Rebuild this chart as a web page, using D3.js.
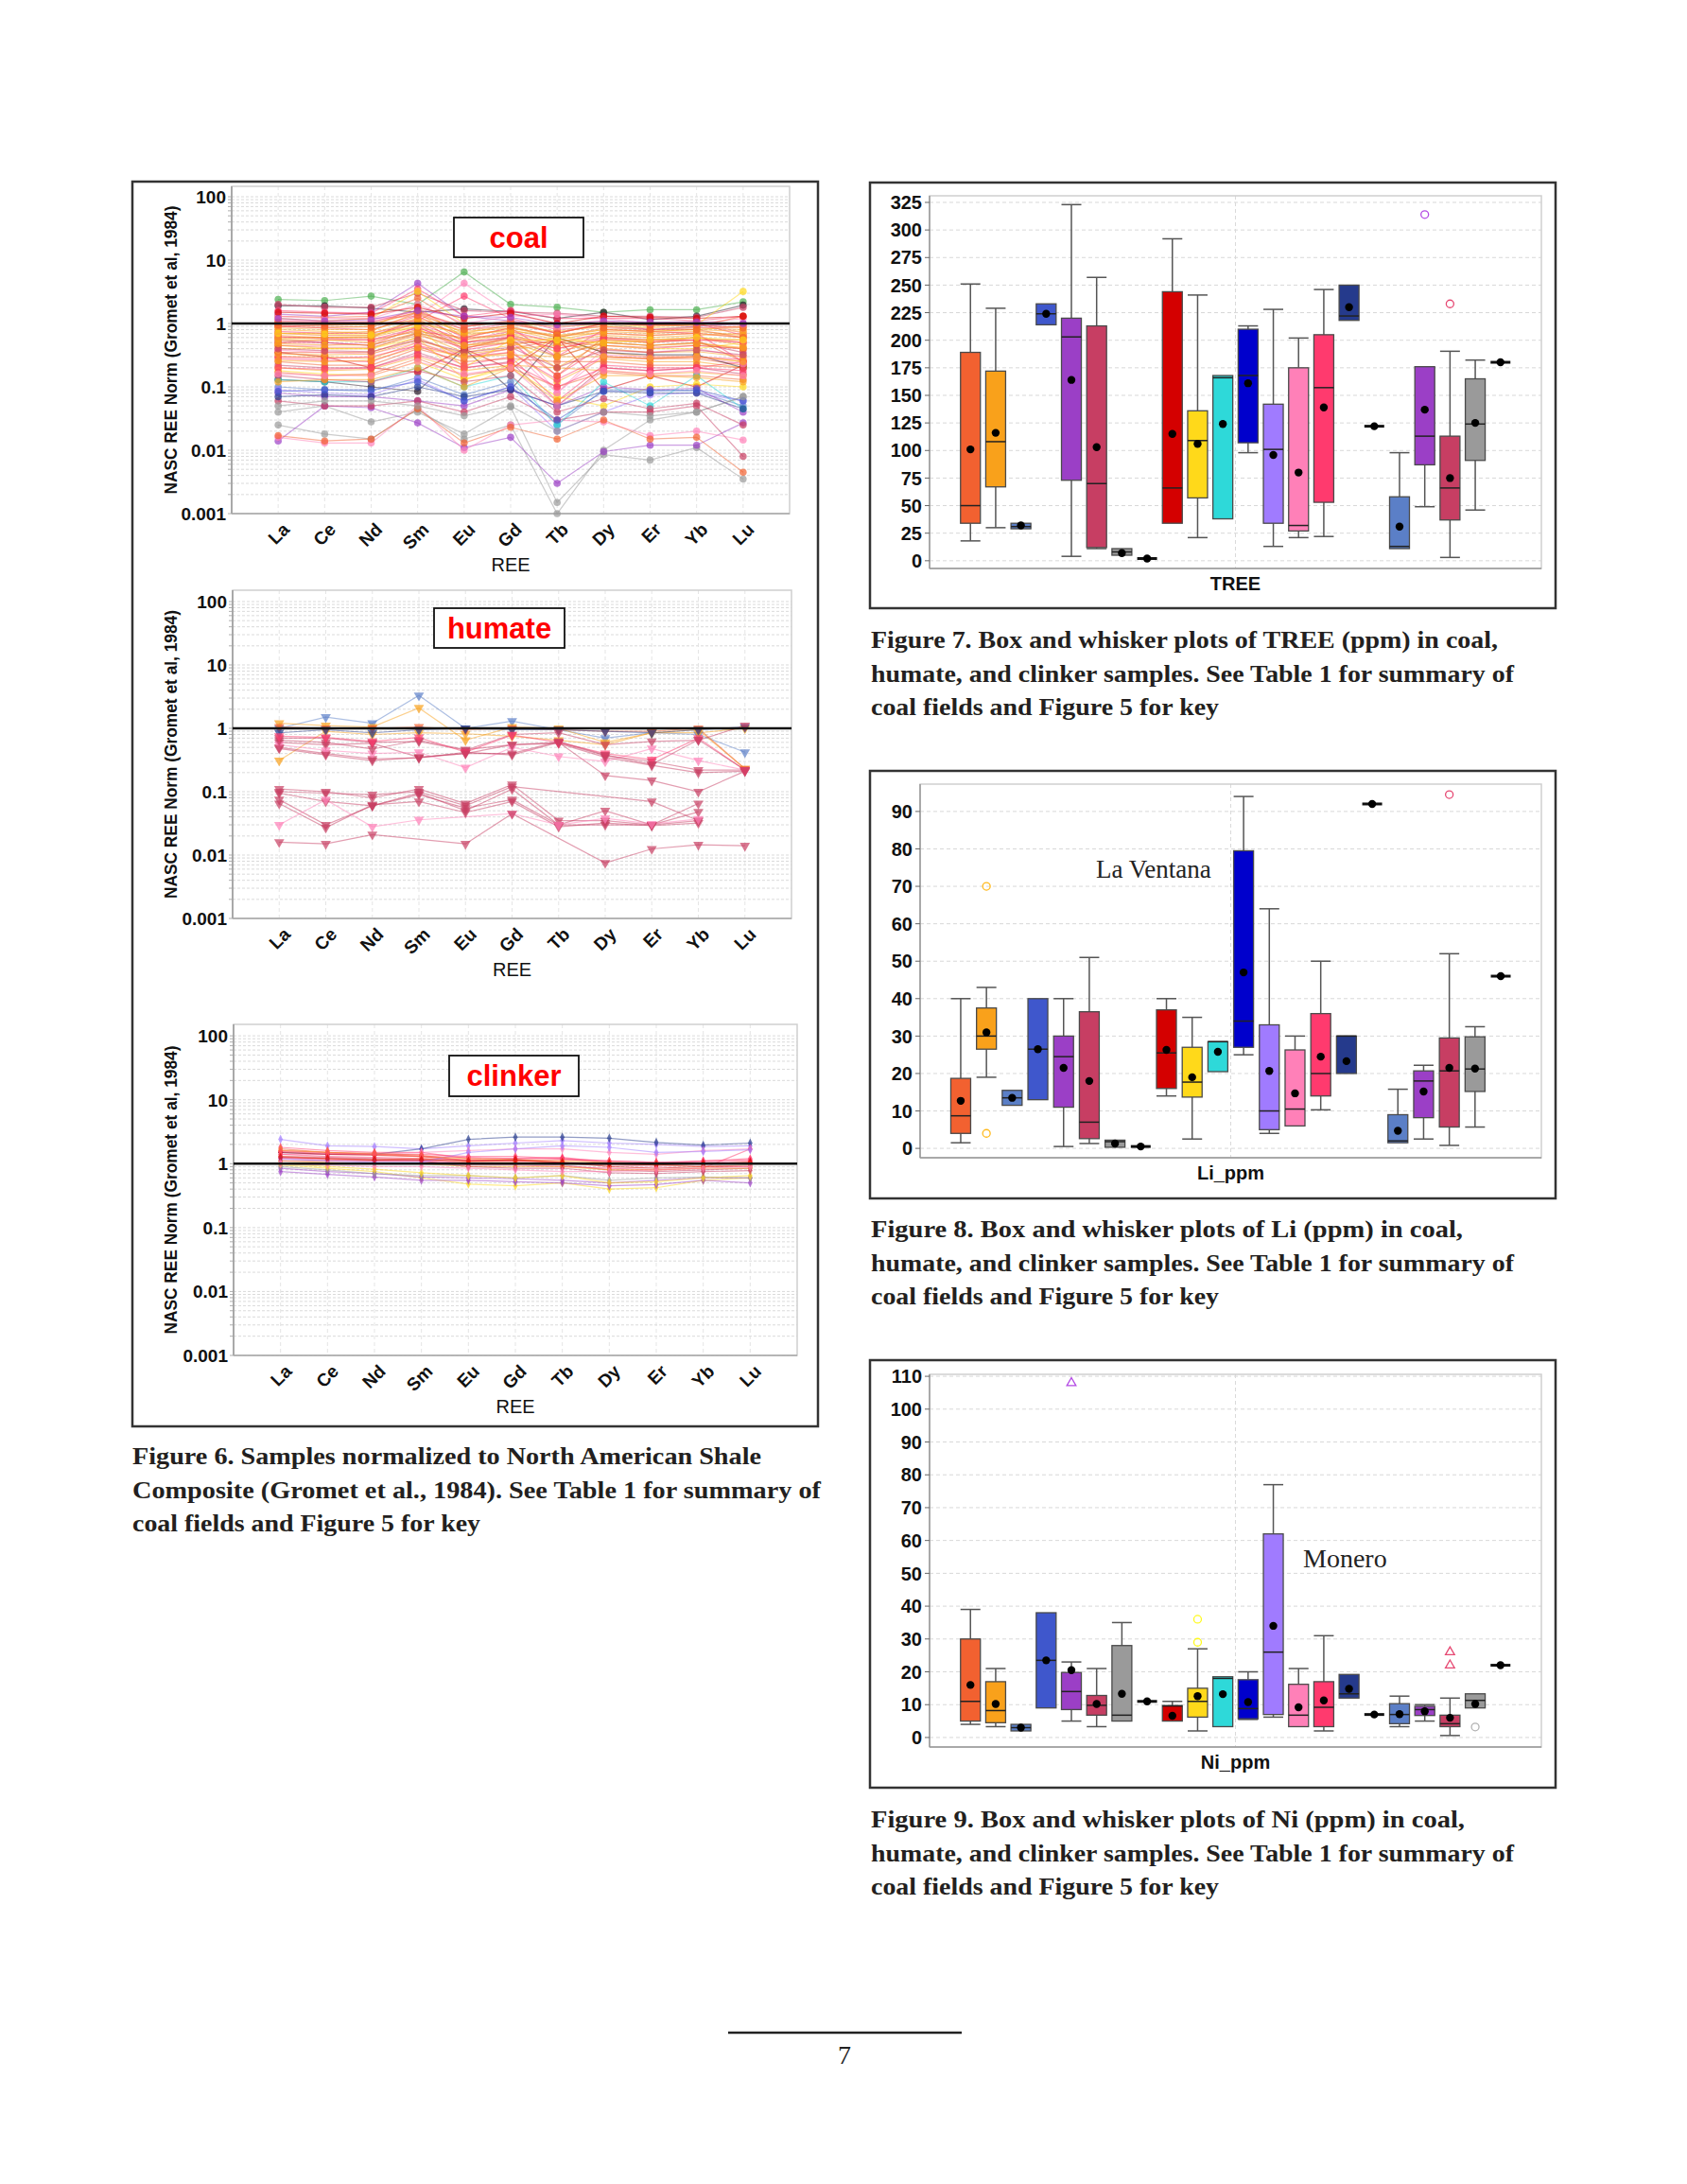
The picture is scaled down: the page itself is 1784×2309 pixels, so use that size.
<!DOCTYPE html>
<html lang="en">
<head>
<meta charset="UTF-8">
<title>Figures 6-9</title>
<style>
  body { margin: 0; background: #fff; }
  svg { display: block; }
  .ax { font-family: "Liberation Sans Narrow", "Liberation Sans", Arial, sans-serif; fill: #111; }
  .cap { font-family: "Liberation Serif", "DejaVu Serif", serif; font-weight: bold; fill: #231f20; }
  .serif { font-family: "Liberation Serif", "DejaVu Serif", serif; fill: #222; }
</style>
</head>
<body>
<script src="https://d3js.org/d3.v7.min.js"></script>
<script>
// ---------- data ----------
const ree = ['La', 'Ce', 'Nd', 'Sm', 'Eu', 'Gd', 'Tb', 'Dy', 'Er', 'Yb', 'Lu'];
const reeTicks = [100, 10, 1, 0.1, 0.01, 0.001];
const reeTickLabels = ['100', '10', '1', '0.1', '0.01', '0.001'];

// coal field index -> colour (key of Figure 5)
const fieldColors = ['#F26130', '#F9A11B', '#5B7FC7', '#3F57CC', '#9B3FC6', '#C73E63', '#9A9A9A',
  '#D40000', '#FFD91A', '#2ED9D9', '#0000CC', '#A07BFF', '#FF80B8', '#FF3A6E', '#253A8C', '#4CAF50', '#2A1A2A'];

const coalRows = [
  { f: 15, v: [2.4, 2.3, 2.7, 2.0, 6.5, 2.0, 1.8, 1.5, 1.65, 1.65, 2.2] },
  { f: 16, v: [1.9, 1.9, 1.75, 1.5, 1.7, 1.55, 1.2, 1.5, 1.15, 1.3, 1.95] },
  { f: 4, v: [1.4, 1.3, 1.5, 4.3, 1.3, 1.1, 0.9, 1.0, 0.8, 0.9, 1.0] },
  { f: 12, v: [1.0, 1.1, 1.2, 1.3, 4.3, 1.4, 1.0, 1.1, 0.9, 1.0, 1.2] },
  { f: 13, v: [0.9, 0.95, 1.0, 1.1, 2.7, 1.2, 0.8, 0.9, 0.8, 0.85, 0.9] },
  { f: 5, v: [2.0, 1.8, 1.8, 3.0, 1.6, 1.5, 1.45, 1.3, 1.3, 1.25, 1.8] },
  { f: 13, v: [1.6, 1.5, 1.45, 3.5, 1.3, 1.6, 1.2, 1.2, 1.2, 1.1, 1.3] },
  { f: 8, v: [1.2, 1.1, 1.2, 3.2, 1.0, 1.0, 0.9, 0.95, 0.9, 0.95, 3.2] },
  { f: 0, v: [1.3, 1.25, 1.3, 2.5, 0.9, 1.1, 0.7, 1.0, 0.95, 0.9, 1.3] },
  { f: 1, v: [0.9, 0.85, 0.9, 1.8, 0.6, 0.85, 0.6, 0.8, 0.75, 0.8, 0.9] },
  { f: 1, v: [0.7, 0.7, 0.75, 1.5, 0.5, 0.7, 0.5, 0.65, 0.6, 0.65, 0.7] },
  { f: 0, v: [0.6, 0.6, 0.6, 1.2, 0.45, 0.6, 0.4, 0.55, 0.5, 0.55, 0.55] },
  { f: 13, v: [0.5, 0.5, 0.45, 0.9, 0.38, 0.5, 0.15, 0.45, 0.4, 0.45, 0.4] },
  { f: 12, v: [0.45, 0.45, 0.5, 0.8, 0.4, 0.6, 0.08, 0.4, 0.35, 0.4, 0.3] },
  { f: 1, v: [0.4, 0.4, 0.4, 0.7, 0.35, 0.45, 0.6, 0.35, 0.3, 0.3, 0.25] },
  { f: 0, v: [0.35, 0.35, 0.35, 0.6, 0.3, 0.4, 0.55, 0.3, 0.28, 0.28, 0.22] },
  { f: 1, v: [0.3, 0.3, 0.28, 0.5, 0.28, 0.35, 0.12, 0.28, 0.25, 0.25, 0.2] },
  { f: 13, v: [0.28, 0.26, 0.25, 0.45, 0.22, 0.3, 0.06, 0.22, 0.2, 0.2, 0.25] },
  { f: 7, v: [0.35, 0.3, 0.2, 0.17, 0.4, 0.19, 0.6, 0.09, 0.15, 0.1, 0.22] },
  { f: 16, v: [0.13, 0.12, 0.1, 0.085, 0.4, 0.09, 0.6, 0.35, 0.32, 0.32, 0.2] },
  { f: 5, v: [0.22, 0.2, 0.2, 0.35, 0.2, 0.25, 0.05, 0.2, 0.18, 0.2, 0.16] },
  { f: 1, v: [0.2, 0.18, 0.19, 0.3, 0.18, 0.22, 0.2, 0.18, 0.16, 0.17, 0.15] },
  { f: 8, v: [0.18, 0.16, 0.15, 0.25, 0.13, 0.2, 0.07, 0.05, 0.1, 0.11, 0.1] },
  { f: 0, v: [0.17, 0.15, 0.16, 0.28, 0.15, 0.2, 0.1, 0.17, 0.15, 0.15, 0.13] },
  { f: 2, v: [0.1, 0.09, 0.085, 0.14, 0.075, 0.12, 0.025, 0.09, 0.09, 0.085, 0.05] },
  { f: 11, v: [0.09, 0.08, 0.075, 0.13, 0.06, 0.1, 0.02, 0.04, 0.075, 0.08, 0.06] },
  { f: 4, v: [0.08, 0.07, 0.07, 0.06, 0.05, 0.09, 0.05, 0.1, 0.09, 0.095, 0.04] },
  { f: 6, v: [0.04, 0.05, 0.028, 0.04, 0.018, 0.048, 0.0015, 0.0085, 0.007, 0.011, 0.0035] },
  { f: 6, v: [0.025, 0.018, 0.015, 0.045, 0.015, 0.025, 0.001, 0.01, 0.03, 0.04, 0.07] },
  { f: 4, v: [0.014, 0.05, 0.047, 0.027, 0.011, 0.016, 0.003, 0.0095, 0.012, 0.012, 0.027] },
  { f: 12, v: [0.016, 0.013, 0.013, 0.05, 0.01, 0.025, 0.03, 0.028, 0.017, 0.02, 0.0145] },
  { f: 0, v: [0.017, 0.014, 0.015, 0.045, 0.013, 0.023, 0.015, 0.03, 0.015, 0.016, 0.0045] },
  { f: 5, v: [0.06, 0.05, 0.05, 0.06, 0.04, 0.07, 0.03, 0.04, 0.04, 0.05, 0.008] },
  { f: 9, v: [0.13, 0.12, 0.12, 0.2, 0.1, 0.15, 0.025, 0.12, 0.05, 0.15, 0.045] },
  { f: 13, v: [0.75, 0.7, 0.7, 1.0, 0.55, 0.75, 0.5, 0.7, 0.65, 0.7, 0.6] },
  { f: 1, v: [1.0, 0.95, 0.95, 1.5, 0.7, 0.95, 0.75, 0.9, 0.85, 0.85, 0.8] },
  { f: 0, v: [0.5, 0.55, 0.55, 0.75, 0.6, 0.65, 0.45, 0.6, 0.55, 0.6, 0.5] },
  { f: 1, v: [0.65, 0.6, 0.6, 0.9, 0.55, 0.7, 0.35, 0.55, 0.5, 0.6, 0.45] },
  { f: 13, v: [1.1, 1.05, 1.05, 1.6, 0.8, 1.0, 0.7, 1.0, 0.95, 1.0, 0.65] },
  { f: 12, v: [1.3, 1.2, 1.2, 2.0, 1.0, 1.3, 1.4, 1.2, 1.0, 1.1, 0.7] },
  { f: 5, v: [0.55, 0.5, 0.45, 0.7, 0.5, 0.6, 0.3, 0.5, 0.45, 0.5, 0.35] },
  { f: 1, v: [0.8, 0.75, 0.7, 1.1, 0.65, 0.8, 0.55, 0.75, 0.7, 0.75, 0.65] },
  { f: 0, v: [0.25, 0.22, 0.22, 0.4, 0.25, 0.28, 0.25, 0.25, 0.22, 0.22, 0.2] },
  { f: 8, v: [0.45, 0.4, 0.4, 0.6, 0.13, 0.22, 0.65, 0.45, 0.4, 0.4, 0.5] },
  { f: 14, v: [0.07, 0.075, 0.07, 0.1, 0.07, 0.09, 0.05, 0.085, 0.08, 0.08, 0.045] },
  { f: 3, v: [0.085, 0.09, 0.09, 0.12, 0.06, 0.1, 0.03, 0.085, 0.085, 0.09, 0.06] },
  { f: 6, v: [0.05, 0.06, 0.06, 0.05, 0.035, 0.05, 0.02, 0.04, 0.035, 0.04, 0.07] },
  { f: 13, v: [0.3, 0.28, 0.3, 0.45, 0.3, 0.35, 0.13, 0.3, 0.28, 0.3, 0.27] },
  { f: 1, v: [0.55, 0.55, 0.5, 0.8, 0.45, 0.55, 0.2, 0.5, 0.45, 0.5, 0.4] },
  { f: 0, v: [0.7, 0.65, 0.65, 1.0, 0.4, 0.6, 0.15, 0.6, 0.55, 0.55, 0.25] },
  { f: 5, v: [0.15, 0.13, 0.12, 0.18, 0.12, 0.15, 0.04, 0.065, 0.045, 0.055, 0.025] },
  { f: 1, v: [0.12, 0.13, 0.13, 0.2, 0.1, 0.2, 0.06, 0.15, 0.15, 0.14, 0.12] },
  { f: 13, v: [0.9, 0.85, 0.8, 1.3, 0.6, 0.85, 0.3, 0.8, 0.75, 0.7, 0.25] },
  { f: 7, v: [1.5, 1.45, 1.4, 1.8, 1.2, 1.45, 1.0, 1.3, 1.25, 1.2, 1.3] },
  { f: 12, v: [0.38, 0.35, 0.33, 0.5, 0.3, 0.4, 0.08, 0.32, 0.3, 0.3, 0.23] },
  { f: 1, v: [0.85, 0.8, 0.8, 1.2, 0.75, 0.85, 0.65, 0.8, 0.75, 0.8, 0.75] },
  { f: 0, v: [0.45, 0.42, 0.42, 0.65, 0.42, 0.5, 0.5, 0.45, 0.42, 0.45, 0.4] },
  { f: 1, v: [0.33, 0.32, 0.33, 0.55, 0.33, 0.4, 0.45, 0.4, 0.35, 0.36, 0.3] },
  { f: 13, v: [0.62, 0.58, 0.55, 0.85, 0.5, 0.62, 0.4, 0.58, 0.52, 0.55, 0.5] },
  { f: 12, v: [1.15, 1.1, 1.1, 1.4, 0.9, 1.1, 0.85, 1.05, 1.0, 1.0, 0.95] },
  { f: 1, v: [0.58, 0.6, 0.62, 1.0, 0.7, 0.75, 0.65, 0.7, 0.65, 0.7, 0.6] },
  { f: 0, v: [0.95, 0.9, 0.88, 1.35, 0.8, 0.9, 0.6, 0.85, 0.8, 0.8, 0.6] },
  { f: 8, v: [0.7, 0.68, 0.66, 0.9, 0.2, 0.55, 0.55, 0.5, 0.55, 0.6, 0.55] },
  { f: 5, v: [0.4, 0.37, 0.36, 0.55, 0.35, 0.42, 0.2, 0.38, 0.35, 0.38, 0.32] },
  { f: 1, v: [0.26, 0.25, 0.26, 0.42, 0.3, 0.32, 0.3, 0.3, 0.28, 0.3, 0.25] },
  { f: 13, v: [0.2, 0.19, 0.2, 0.32, 0.2, 0.24, 0.1, 0.2, 0.18, 0.2, 0.18] },
  { f: 0, v: [1.05, 1.0, 1.0, 1.5, 0.9, 1.05, 0.7, 1.0, 0.95, 0.95, 0.85] },
  { f: 1, v: [0.48, 0.46, 0.46, 0.72, 0.45, 0.5, 0.3, 0.5, 0.45, 0.48, 0.42] },
  { f: 12, v: [0.16, 0.15, 0.15, 0.25, 0.16, 0.2, 0.05, 0.18, 0.16, 0.18, 0.15] },
  { f: 4, v: [1.2, 1.1, 1.15, 1.6, 1.3, 1.25, 0.95, 1.1, 1.05, 1.05, 1.0] }
];

const humateRows = [
  { f: 2, v: [1.0, 1.5, 1.2, 3.3, 1.0, 1.3, 0.95, 0.7, 0.85, 0.8, 0.42] },
  { f: 1, v: [1.2, 1.1, 1.05, 2.1, 0.65, 1.05, 1.0, 0.6, 0.85, 0.95, 0.23] },
  { f: 1, v: [0.31, 0.9, 0.8, 0.85, 0.82, 0.75, 0.65, 0.55, 0.85, 0.85, 1.0] },
  { f: 0, v: [1.05, 1.0, 1.0, 1.05, 0.95, 1.0, 0.95, 0.9, 0.9, 1.0, 0.23] },
  { f: 14, v: [0.85, 0.95, 0.85, 0.95, 1.0, 0.95, 0.95, 0.9, 0.85, 0.95, 1.05] },
  { f: 5, v: [0.7, 0.7, 0.6, 0.62, 0.45, 0.8, 0.85, 0.55, 0.62, 0.65, 1.1] },
  { f: 5, v: [0.6, 0.55, 0.58, 0.35, 0.4, 0.55, 0.6, 0.18, 0.15, 0.1, 0.21] },
  { f: 5, v: [0.5, 0.4, 0.33, 0.34, 0.42, 0.38, 0.6, 0.37, 0.3, 0.22, 0.22] },
  { f: 12, v: [0.55, 0.45, 0.4, 0.42, 0.24, 0.5, 0.36, 0.3, 0.48, 0.31, 0.22] },
  { f: 5, v: [0.65, 0.6, 0.47, 0.65, 0.46, 0.55, 0.58, 0.35, 0.26, 0.2, 0.21] },
  { f: 13, v: [0.75, 0.72, 0.62, 0.72, 0.42, 0.78, 0.6, 0.4, 0.32, 0.7, 0.22] },
  { f: 5, v: [0.48, 0.38, 0.31, 0.35, 0.4, 0.4, 0.62, 0.38, 0.27, 0.66, 0.22] },
  { f: 5, v: [0.1, 0.095, 0.09, 0.1, 0.06, 0.12, null, null, 0.07, 0.035, null] },
  { f: 5, v: [0.11, 0.1, 0.08, 0.11, 0.065, 0.13, 0.035, 0.035, 0.03, 0.035, null] },
  { f: 5, v: [0.095, 0.07, 0.06, 0.095, 0.05, 0.11, 0.03, 0.03, 0.03, 0.048, null] },
  { f: 5, v: [0.075, 0.03, 0.06, 0.09, 0.055, 0.075, 0.03, 0.05, 0.03, 0.065, null] },
  { f: 5, v: [0.065, 0.027, 0.062, 0.07, 0.047, 0.07, 0.028, 0.032, 0.029, 0.032, null] },
  { f: 12, v: [0.03, 0.075, 0.028, 0.036, null, 0.045, 0.03, 0.038, 0.031, 0.037, null] },
  { f: 5, v: [0.016, 0.015, 0.021, null, 0.015, 0.045, null, 0.0075, 0.0125, 0.0145, 0.014] }
];

const clinkerRows = [
  { f: 11, v: [2.4, 1.9, 1.85, 1.7, 1.9, 2.1, 2.3, 2.1, 2.0, 1.85, 1.9] },
  { f: 14, v: [1.5, 1.4, 1.4, 1.7, 2.4, 2.6, 2.6, 2.5, 2.15, 1.95, 2.1] },
  { f: 13, v: [1.8, 1.6, 1.5, 1.5, 1.2, 1.2, 1.2, 1.0, 1.0, 1.0, 1.0] },
  { f: 13, v: [1.6, 1.5, 1.4, 1.4, 1.3, 1.3, 1.2, 1.1, 1.05, 1.05, 1.1] },
  { f: 12, v: [1.4, 1.4, 1.4, 1.5, 1.6, 1.7, 1.7, 1.5, 1.4, 1.6, 1.7] },
  { f: 7, v: [1.5, 1.4, 1.35, 1.3, 1.1, 1.1, 1.05, 0.9, 0.85, 0.9, 0.9] },
  { f: 0, v: [1.7, 1.5, 1.45, 1.35, 1.1, 1.15, 1.0, 1.0, 0.95, 1.0, 1.05] },
  { f: 5, v: [1.3, 1.25, 1.2, 1.15, 1.0, 1.0, 0.95, 0.8, 0.75, 0.8, 0.85] },
  { f: 13, v: [1.2, 1.15, 1.1, 1.1, 0.95, 0.95, 0.9, 0.85, 0.8, 0.85, 1.7] },
  { f: 1, v: [1.1, 1.05, 1.0, 1.0, 0.9, 0.9, 0.9, 0.8, 0.8, 0.85, 0.85] },
  { f: 8, v: [0.95, 0.85, 0.75, 0.6, 0.48, 0.45, 0.5, 0.4, 0.42, 0.55, 0.6] },
  { f: 4, v: [0.75, 0.68, 0.62, 0.55, 0.55, 0.52, 0.5, 0.45, 0.47, 0.55, 0.5] },
  { f: 4, v: [0.85, 0.75, 0.7, 0.62, 0.6, 0.58, 0.55, 0.5, 0.55, 0.6, 0.6] },
  { f: 6, v: [0.9, 0.8, 0.7, 0.65, 0.65, 0.6, 0.65, 0.55, 0.6, 0.62, 0.6] },
  { f: 8, v: [1.0, 0.9, 0.82, 0.72, 0.65, 0.6, 0.65, 0.5, 0.52, 0.6, 0.65] },
  { f: 12, v: [1.25, 1.2, 1.15, 1.1, 1.05, 1.0, 1.0, 0.95, 0.9, 0.95, 0.9] },
  { f: 13, v: [1.4, 1.3, 1.25, 1.2, 1.15, 1.1, 1.15, 1.1, 1.05, 1.1, 1.2] },
  { f: 5, v: [1.1, 1.1, 1.1, 1.1, 0.9, 0.85, 0.85, 0.72, 0.7, 0.75, 0.78] },
  { f: 0, v: [1.3, 1.2, 1.15, 1.2, 1.05, 1.05, 1.0, 0.95, 0.95, 0.9, 0.95] },
  { f: 11, v: [1.2, 1.1, 1.05, 1.05, 1.5, 1.7, 1.9, 1.8, 1.5, 1.55, 1.65] },
  { f: 1, v: [1.6, 1.5, 1.4, 1.3, 1.2, 1.15, 1.1, 1.05, 1.0, 1.0, 1.0] },
  { f: 13, v: [1.55, 1.45, 1.4, 1.3, 1.25, 1.2, 1.25, 1.05, 1.0, 1.1, 1.15] },
  { f: 7, v: [1.25, 1.2, 1.15, 1.15, 1.1, 1.15, 1.05, 1.0, 0.95, 1.0, 1.05] },
  { f: 12, v: [1.0, 0.95, 0.9, 0.9, 0.85, 0.8, 0.75, 0.75, 0.8, 0.85, 0.9] }
];

// box plot groups: field of each slot (null = single sample)
const slotFields = [0, 1, 2, 3, 4, 5, 6, null, 7, 8, 9, 10, 11, 12, 13, 14, null, 2, 4, 5, 6, null];

// [low whisker, q1, median, q3, high whisker, mean]
const treeStats = [
  [18, 34, 50, 189, 251, 101], [30, 67, 108, 172, 229, 116], [29, 29, 31, 34, 34, 32], [214, 214, 224, 233, 233, 224],
  [4, 73, 203, 220, 323, 164], [11, 12, 70, 213, 257, 103], [5, 5, 8, 11, 11, 7], [2, 2, 2, 2, 2, 2],
  [34, 34, 66, 244, 292, 115], [21, 57, 109, 136, 241, 106], [38, 38, 166, 168, 168, 124], [98, 107, 168, 210, 213, 161],
  [13, 34, 101, 142, 228, 96], [21, 27, 32, 175, 202, 80], [22, 53, 157, 205, 246, 139], [218, 218, 222, 250, 250, 230],
  [122, 122, 122, 122, 122, 122], [11, 11, 13, 58, 98, 31], [49, 87, 113, 176, 176, 137], [3, 37, 66, 113, 190, 75],
  [46, 91, 124, 165, 182, 125], [180, 180, 180, 180, 180, 180]
];
const treeOutliers = [{ slot: 18, v: 314, far: false }, { slot: 19, v: 233, far: false }];
const treeTicks = [0, 25, 50, 75, 100, 125, 150, 175, 200, 225, 250, 275, 300, 325];

const liStats = [
  [1.5, 4, 8.7, 18.7, 40, 12.7], [19, 26.5, 30, 37.5, 43, 31], [11.5, 11.5, 13.5, 15.5, 15.5, 13.5], [13, 13, 26.5, 40, 40, 26.5],
  [0.5, 11, 24.5, 30, 40, 21.5], [1.3, 2.6, 7, 36.5, 51, 18], [0.3, 0.3, 1.8, 2.2, 2.2, 1.3], [0.5, 0.5, 0.5, 0.5, 0.5, 0.5],
  [14, 16, 25.5, 37, 40, 26.3], [2.5, 13.7, 17.7, 27, 35, 19], [20.5, 20.5, 28.5, 28.5, 28.5, 25.8], [25, 27, 34, 79.5, 94, 47],
  [4, 5, 10, 33, 64, 20.7], [6, 6, 10.5, 26.3, 30, 14.7], [10.3, 14, 20, 36, 50, 24.5], [20, 20, 30, 30, 30, 23.3],
  [92, 92, 92, 92, 92, 92], [1.5, 1.5, 2, 9, 15.8, 4.7], [2.5, 8.2, 18, 20.7, 22.2, 15.2], [0.8, 5.7, 20.7, 29.5, 52, 21.5],
  [5.7, 15.2, 21.2, 29.8, 32.5, 21.3], [46, 46, 46, 46, 46, 46]
];
const liOutliers = [{ slot: 1, v: 70, far: false }, { slot: 1, v: 4, far: false }, { slot: 19, v: 94.5, far: false }];
const liTicks = [0, 10, 20, 30, 40, 50, 60, 70, 80, 90];

const niStats = [
  [4, 5, 11, 30, 39, 16], [3.3, 4.5, 8.2, 17, 21, 10.2], [2, 2, 3, 4, 4, 3], [9, 9, 23.5, 38, 38, 23.5],
  [5, 8.5, 14, 19.8, 23, 20.5], [3.3, 6.8, 9.8, 12.8, 21, 10.2], [5, 5, 6.8, 28, 35, 13.3], [11, 11, 11, 11, 11, 11],
  [5, 5, 9.6, 9.7, 11, 6.6], [2, 6.2, 11, 15, 27, 12.6], [3.3, 3.3, 18, 18.5, 18.5, 13.2], [5.5, 5.7, 8.8, 17.6, 20, 10.8],
  [6.2, 7, 26, 62, 77, 34], [3.3, 3.3, 6.8, 16.2, 21, 9.2], [2, 3.3, 9.2, 17, 31, 11.3], [12, 12, 13.3, 19.2, 19.2, 14.8],
  [7, 7, 7, 7, 7, 7], [3.3, 4.2, 7, 10.3, 12.6, 7.1], [5, 6.7, 8.5, 9.5, 10, 8], [0.6, 3.3, 4.2, 6.8, 12, 6],
  [9, 9, 11.3, 13.3, 13.3, 10.2], [22, 22, 22, 22, 22, 22]
];
const niOutliers = [
  { slot: 4, v: 108, far: true }, { slot: 9, v: 29, far: false }, { slot: 9, v: 36, far: false },
  { slot: 19, v: 22, far: true }, { slot: 19, v: 26, far: true }, { slot: 20, v: 3.2, far: false }
];
const niTicks = [0, 10, 20, 30, 40, 50, 60, 70, 80, 90, 100, 110];

const captions = {
  fig6: ['Figure 6.  Samples normalized to North American Shale', 'Composite (Gromet et al., 1984). See Table 1 for summary of', 'coal fields and Figure 5 for key'],
  fig7: ['Figure 7. Box and whisker plots of TREE (ppm) in coal,', 'humate, and clinker samples. See Table 1 for summary of', 'coal fields and Figure 5 for key'],
  fig8: ['Figure 8.  Box and whisker plots of Li (ppm) in coal,', 'humate, and clinker samples. See Table 1 for summary of', 'coal fields and Figure 5 for key'],
  fig9: ['Figure 9.  Box and whisker plots of Ni (ppm) in coal,', 'humate, and clinker samples. See Table 1 for summary of', 'coal fields and Figure 5 for key']
};

// ---------- drawing ----------
const svg = d3.select('body').append('svg').attr('width', 1784).attr('height', 2309);
svg.append('rect').attr('width', 1784).attr('height', 2309).attr('fill', '#fff');

// figure frames
[[140, 192, 725, 1316], [920, 193, 725, 450], [920, 815, 725, 452], [920, 1438, 725, 452]].forEach(b => {
  svg.append('rect').attr('x', b[0]).attr('y', b[1]).attr('width', b[2]).attr('height', b[3])
    .attr('fill', 'none').attr('stroke', '#333').attr('stroke-width', 2.5);
});

function reePanel(cfg, rows, marker) {
  const x = d3.scalePoint().domain(ree).range([cfg.left, cfg.right]).padding(1);
  const y = d3.scaleLog().domain([0.001, cfg.top]).range([cfg.bottom, cfg.y0]);
  const g = svg.append('g');

  const minor = [];
  for (let e = -3; e <= 2; e++) {
    for (let k = 1; k <= 9; k++) {
      const v = +(k * Math.pow(10, e)).toPrecision(3);
      if (v <= cfg.top) minor.push(v);
    }
  }
  g.selectAll('line.hg').data(minor).join('line')
    .attr('x1', cfg.left).attr('x2', cfg.right)
    .attr('y1', d => y(d)).attr('y2', d => y(d))
    .attr('stroke', '#d6d6d6').attr('stroke-width', 0.9).attr('stroke-dasharray', '3,2');
  g.selectAll('line.tk').data(minor).join('line')
    .attr('x1', cfg.left - 4).attr('x2', cfg.left)
    .attr('y1', d => y(d)).attr('y2', d => y(d))
    .attr('stroke', '#999').attr('stroke-width', 0.8);
  g.selectAll('line.vg').data(ree).join('line')
    .attr('x1', d => x(d)).attr('x2', d => x(d))
    .attr('y1', cfg.y0).attr('y2', cfg.bottom)
    .attr('stroke', '#e2e2e2').attr('stroke-width', 0.9).attr('stroke-dasharray', '4,3');
  g.append('rect').attr('x', cfg.left).attr('y', cfg.y0)
    .attr('width', cfg.right - cfg.left).attr('height', cfg.bottom - cfg.y0)
    .attr('fill', 'none').attr('stroke', '#cfcfcf').attr('stroke-width', 1.5);
  g.append('line').attr('x1', cfg.left).attr('x2', cfg.left).attr('y1', cfg.y0).attr('y2', cfg.bottom)
    .attr('stroke', '#999').attr('stroke-width', 1.5);
  g.append('line').attr('x1', cfg.left).attr('x2', cfg.right).attr('y1', cfg.bottom).attr('y2', cfg.bottom)
    .attr('stroke', '#aaa').attr('stroke-width', 1.5);

  // data
  const line = d3.line().x(d => x(d.k)).y(d => y(d.v));
  const pts = rows.map(r => ({ c: fieldColors[r.f], p: r.v.map((v, i) => ({ k: ree[i], v })).filter(d => d.v != null) }));
  g.selectAll('path.ser').data(pts).join('path')
    .attr('d', d => line(d.p)).attr('fill', 'none')
    .attr('stroke', d => d.c).attr('stroke-opacity', 0.5).attr('stroke-width', 1.2);
  pts.forEach(s => {
    const m = g.selectAll(null).data(s.p).join(marker === 'circle' ? 'circle' : 'path')
      .attr('fill', s.c).attr('fill-opacity', 0.7);
    if (marker === 'circle') {
      m.attr('cx', d => x(d.k)).attr('cy', d => y(d.v)).attr('r', 3.8);
    } else if (marker === 'tri') {
      m.attr('d', d3.symbol(d3.symbolTriangle, 50)())
        .attr('transform', d => `translate(${x(d.k)},${y(d.v)}) rotate(180)`);
    } else {
      m.attr('d', 'M0,-5 L2.4,0 L0,5 L-2.4,0 Z')
        .attr('transform', d => `translate(${x(d.k)},${y(d.v)})`);
    }
  });

  // reference line at 1
  g.append('line').attr('x1', cfg.left).attr('x2', cfg.right).attr('y1', y(1)).attr('y2', y(1))
    .attr('stroke', '#111').attr('stroke-width', 2.6);

  // axes text
  g.selectAll('text.yt').data(reeTicks).join('text').attr('class', 'ax')
    .attr('x', cfg.left - 6).attr('y', d => y(d)).attr('dy', '0.36em')
    .attr('text-anchor', 'end').style('font-size', '19px').style('font-weight', '600')
    .text((d, i) => reeTickLabels[i]);
  g.selectAll('text.xt').data(ree).join('text').attr('class', 'ax')
    .attr('transform', d => `translate(${x(d) + 13},${cfg.bottom + 18}) rotate(-45)`)
    .attr('text-anchor', 'end').style('font-size', '19px').style('font-weight', 'bold')
    .text(d => d);
  g.append('text').attr('class', 'ax')
    .attr('x', (cfg.left + cfg.right) / 2).attr('y', cfg.bottom + 61)
    .attr('text-anchor', 'middle').style('font-size', '20px').text('REE');
  g.append('text').attr('class', 'ax')
    .attr('transform', `translate(187,${(cfg.y0 + cfg.bottom) / 2}) rotate(-90)`)
    .attr('text-anchor', 'middle').style('font-size', '18px').style('font-weight', '600')
    .attr('textLength', 305).attr('lengthAdjust', 'spacingAndGlyphs')
    .text('NASC REE Norm (Gromet et al, 1984)');

  // label box
  const b = cfg.box;
  g.append('rect').attr('x', b[0]).attr('y', b[1]).attr('width', b[2]).attr('height', b[3])
    .attr('fill', '#fff').attr('stroke', '#111').attr('stroke-width', 1.8);
  g.append('text').attr('x', b[0] + b[2] / 2).attr('y', b[1] + b[3] / 2).attr('dy', '0.35em')
    .attr('text-anchor', 'middle')
    .style('font-family', '"Liberation Sans Narrow", "Liberation Sans", Arial, sans-serif')
    .style('font-weight', 'bold').style('font-size', '31px').attr('fill', '#FF0000')
    .text(cfg.label);
}

reePanel({ left: 245, right: 835, y0: 197, bottom: 543, top: 146, box: [480, 230, 137, 42], label: 'coal' }, coalRows, 'circle');
reePanel({ left: 246, right: 837, y0: 624, bottom: 971, top: 151, box: [459, 643, 138, 42], label: 'humate' }, humateRows, 'tri');
reePanel({ left: 247, right: 843, y0: 1083, bottom: 1433, top: 151, box: [475, 1116, 137, 43], label: 'clinker' }, clinkerRows, 'diamond');

function boxPanel(cfg, stats, outliers, ticks) {
  const slots = d3.range(stats.length);
  const x = d3.scalePoint().domain(slots).range([cfg.left, cfg.right]).padding(cfg.pad);
  const y = d3.scaleLinear().domain(cfg.domain).range([cfg.bottom, cfg.top]);
  const g = svg.append('g');
  const bw = 21;
  const mid = (cfg.left + cfg.right) / 2;

  g.selectAll('line.hg').data(ticks).join('line')
    .attr('x1', cfg.left).attr('x2', cfg.right).attr('y1', d => y(d)).attr('y2', d => y(d))
    .attr('stroke', '#d8d8d8').attr('stroke-width', 1).attr('stroke-dasharray', '4,3');
  g.append('line').attr('x1', mid).attr('x2', mid).attr('y1', cfg.top).attr('y2', cfg.bottom)
    .attr('stroke', '#dadada').attr('stroke-width', 1).attr('stroke-dasharray', '4,3');
  g.append('rect').attr('x', cfg.left).attr('y', cfg.top)
    .attr('width', cfg.right - cfg.left).attr('height', cfg.bottom - cfg.top)
    .attr('fill', 'none').attr('stroke', '#cfcfcf').attr('stroke-width', 1.5);
  g.append('line').attr('x1', cfg.left).attr('x2', cfg.left).attr('y1', cfg.top).attr('y2', cfg.bottom)
    .attr('stroke', '#999').attr('stroke-width', 1.5);
  g.append('line').attr('x1', cfg.left).attr('x2', cfg.right).attr('y1', cfg.bottom).attr('y2', cfg.bottom)
    .attr('stroke', '#999').attr('stroke-width', 1.5);
  g.selectAll('line.tk').data(ticks).join('line')
    .attr('x1', cfg.left - 5).attr('x2', cfg.left).attr('y1', d => y(d)).attr('y2', d => y(d))
    .attr('stroke', '#666').attr('stroke-width', 1);
  g.selectAll('text.yt').data(ticks).join('text').attr('class', 'ax')
    .attr('x', cfg.left - 8).attr('y', d => y(d)).attr('dy', '0.36em')
    .attr('text-anchor', 'end').style('font-size', '20px').style('font-weight', '600').text(d => d);
  g.append('text').attr('class', 'ax').attr('x', mid).attr('y', cfg.bottom + 23)
    .attr('text-anchor', 'middle').style('font-size', '20px').style('font-weight', '600').text(cfg.title);

  stats.forEach((s, i) => {
    const cx = x(i);
    const f = slotFields[i];
    if (f == null) {
      g.append('line').attr('x1', cx - bw / 2).attr('x2', cx + bw / 2).attr('y1', y(s[2])).attr('y2', y(s[2]))
        .attr('stroke', '#111').attr('stroke-width', 3);
      g.append('circle').attr('cx', cx).attr('cy', y(s[5])).attr('r', 4.2).attr('fill', '#000');
      return;
    }
    const col = fieldColors[f];
    const wl = g.append('g').attr('stroke', '#555').attr('stroke-width', 1.5);
    if (s[0] < s[1]) {
      wl.append('line').attr('x1', cx).attr('x2', cx).attr('y1', y(s[0])).attr('y2', y(s[1]));
      wl.append('line').attr('x1', cx - bw / 2).attr('x2', cx + bw / 2).attr('y1', y(s[0])).attr('y2', y(s[0]));
    }
    if (s[4] > s[3]) {
      wl.append('line').attr('x1', cx).attr('x2', cx).attr('y1', y(s[4])).attr('y2', y(s[3]));
      wl.append('line').attr('x1', cx - bw / 2).attr('x2', cx + bw / 2).attr('y1', y(s[4])).attr('y2', y(s[4]));
    }
    g.append('rect').attr('x', cx - bw / 2).attr('y', y(s[3]))
      .attr('width', bw).attr('height', Math.max(1, y(s[1]) - y(s[3])))
      .attr('fill', col).attr('stroke', '#4a4a4a').attr('stroke-width', 1.3);
    g.append('line').attr('x1', cx - bw / 2).attr('x2', cx + bw / 2).attr('y1', y(s[2])).attr('y2', y(s[2]))
      .attr('stroke', '#222').attr('stroke-width', 1.5);
    g.append('circle').attr('cx', cx).attr('cy', y(s[5])).attr('r', 4.2).attr('fill', '#000');
  });

  outliers.forEach(o => {
    const col = d3.color(fieldColors[slotFields[o.slot]]).brighter(0.4);
    const px = x(o.slot), py = y(o.v);
    if (o.far) {
      g.append('path').attr('d', d3.symbol(d3.symbolTriangle, 40)())
        .attr('transform', `translate(${px},${py})`)
        .attr('fill', 'none').attr('stroke', col).attr('stroke-width', 1.3);
    } else {
      g.append('circle').attr('cx', px).attr('cy', py).attr('r', 4)
        .attr('fill', 'none').attr('stroke', col).attr('stroke-width', 1.3);
    }
  });
  return g;
}

boxPanel({ left: 983, right: 1630, top: 207, bottom: 601, domain: [-7, 331], pad: 1.62, title: 'TREE' }, treeStats, treeOutliers, treeTicks);
const g8 = boxPanel({ left: 973, right: 1630, top: 829, bottom: 1224, domain: [-2.5, 97.3], pad: 1.58, title: 'Li_ppm' }, liStats, liOutliers, liTicks);
const g9 = boxPanel({ left: 983, right: 1630, top: 1453, bottom: 1847, domain: [-2.9, 110.6], pad: 1.62, title: 'Ni_ppm' }, niStats, niOutliers, niTicks);

g8.append('text').attr('class', 'serif').attr('x', 1159).attr('y', 928).style('font-size', '27px').text('La Ventana');
g9.append('text').attr('class', 'serif').attr('x', 1378).attr('y', 1657).style('font-size', '28px').text('Monero');

// captions
function caption(lines, x0, y0, widths) {
  lines.forEach((t, i) => {
    svg.append('text').attr('class', 'cap').attr('x', x0).attr('y', y0 + i * 35.5)
      .style('font-size', '26px')
      .attr('textLength', widths[i]).attr('lengthAdjust', 'spacingAndGlyphs')
      .text(t);
  });
}
caption(captions.fig6, 140, 1548, [665, 728, 368]);
caption(captions.fig7, 921, 685, [663, 680, 368]);
caption(captions.fig8, 921, 1308, [626, 680, 368]);
caption(captions.fig9, 921, 1932, [628, 680, 368]);

// page footer
svg.append('line').attr('x1', 770).attr('x2', 1017).attr('y1', 2149).attr('y2', 2149)
  .attr('stroke', '#222').attr('stroke-width', 2.5);
svg.append('text').attr('class', 'serif').attr('x', 893).attr('y', 2182)
  .attr('text-anchor', 'middle').style('font-size', '28px').text('7');
</script>
</body>
</html>
